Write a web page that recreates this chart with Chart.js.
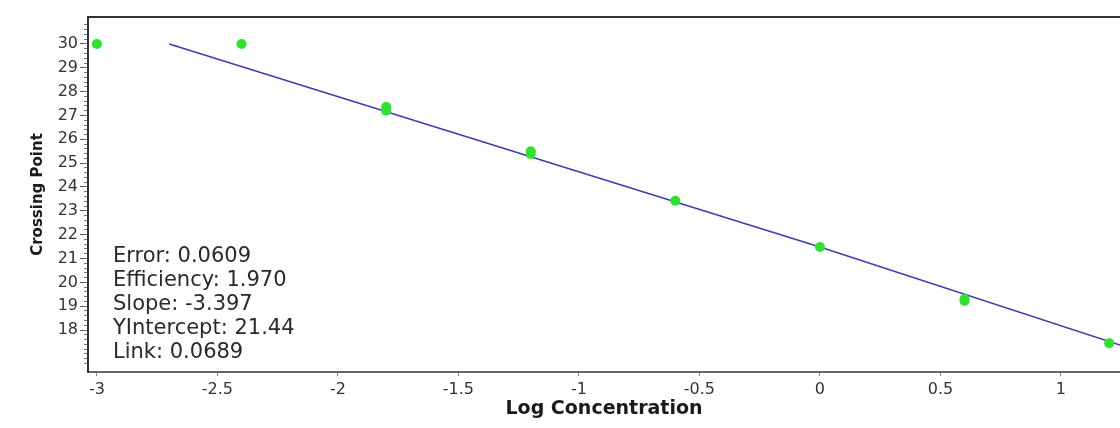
<!DOCTYPE html>
<html>
<head>
<meta charset="utf-8">
<script src="https://cdn.jsdelivr.net/npm/chart.js@4.4.1/dist/chart.umd.min.js"></script>
<style>
    html, body { margin: 0; padding: 0; background: #fff; overflow: hidden; }
    #wrap { width: 1120px; height: 428px; }
</style>
</head>
<body>
<div id="wrap"><canvas id="stdCurve"></canvas></div>
<script>
// standard curve samples: log concentration vs crossing point
const logConc = [-3.0, -2.4, -1.8, -1.8, -1.2, -1.2, -0.6, 0.0, 0.6, 0.6, 1.2];
const crossingPts = [30.0, 30.0, 27.35, 27.2, 25.5, 25.38, 23.42, 21.48, 19.3, 19.22, 17.45];

// regression line
const fitX = [-2.7, 0.0, 1.245];
const fitY = [30.0, 21.48, 17.37];

const xTicks = [-3, -2.5, -2, -1.5, -1, -0.5, 0, 0.5, 1];
const yTicks = [18, 19, 20, 21, 22, 23, 24, 25, 26, 27, 28, 29, 30];

const statsLines = [
    'Error: 0.0609',
    'Efficiency: 1.970',
    'Slope: -3.397',
    'YIntercept: 21.44',
    'Link: 0.0689'
];

const family = '"DejaVu Sans", Verdana, sans-serif';
const yMin = 16.24, yMax = 31.13;

const statsText = {
    id: 'statsText',
    afterDatasetsDraw(chart) {
        const { ctx, chartArea } = chart;
        ctx.save();
        ctx.font = '21px ' + family;
        ctx.fillStyle = '#2a2a2a';
        ctx.textBaseline = 'middle';
        statsLines.forEach((line, i) => {
            ctx.fillText(line, chartArea.left + 25, chartArea.bottom - 115 + i * 24);
        });
        ctx.restore();
    }
};

function generateChart() {
    const samples = logConc.map((x, i) => ({ x: x, y: crossingPts[i] }));
    const fitLine = fitX.map((x, i) => ({ x: x, y: fitY[i] }));

    const ctx = document.getElementById('stdCurve');

    new Chart(ctx, {
        type: 'scatter',
        data: {
            datasets: [{
                label: 'Samples',
                data: samples,
                xAxisID: 'x',
                yAxisID: 'y',
                pointRadius: 5,
                pointBackgroundColor: '#2ee22e',
                pointBorderWidth: 0
            },
            {
                label: 'Fit',
                data: fitLine,
                xAxisID: 'x',
                yAxisID: 'y',
                showLine: true,
                pointRadius: 0,
                borderColor: '#3d3db4',
                borderWidth: 1.6
            }]
        },
        options: {
            responsive: true,
            maintainAspectRatio: false,
            animation: false,
            layout: { autoPadding: false, padding: { top: 17, left: 0, right: 0, bottom: 0 } },
            scales: {
                x: {
                    type: 'linear',
                    position: 'bottom',
                    min: -3.037,
                    max: 1.245,
                    afterBuildTicks: s => { s.ticks = xTicks.map(v => ({ value: v })); },
                    afterFit: s => { s.height = 56; },
                    grid: { drawOnChartArea: false, drawTicks: true, tickLength: 4, tickColor: '#888' },
                    border: { display: true, color: '#666', width: 2 },
                    ticks: {
                        color: '#333',
                        font: { family: family, size: 16 },
                        padding: 4,
                        maxRotation: 0,
                        autoSkip: false,
                        callback: v => String(v)
                    },
                    title: {
                        display: true,
                        text: 'Log Concentration',
                        color: '#1a1a1a',
                        font: { family: family, size: 19, weight: 'bold' },
                        padding: { top: 0, bottom: 8 }
                    }
                },
                xTop: {
                    type: 'linear',
                    position: 'top',
                    afterFit: s => { s.height = 0; },
                    grid: { display: false },
                    ticks: { display: false },
                    border: { display: true, color: '#333', width: 2 }
                },
                y: {
                    type: 'linear',
                    position: 'left',
                    weight: 1,
                    min: yMin,
                    max: yMax,
                    afterBuildTicks: s => { s.ticks = yTicks.map(v => ({ value: v })); },
                    afterFit: s => { s.width = 88; },
                    grid: { drawOnChartArea: false, drawTicks: true, tickLength: 8, tickColor: '#555' },
                    border: { display: true, color: '#333', width: 2 },
                    ticks: {
                        color: '#333',
                        font: { family: family, size: 16 },
                        padding: 2,
                        callback: v => String(v)
                    },
                    title: {
                        display: true,
                        text: 'Crossing Point',
                        color: '#1a1a1a',
                        font: { family: family, size: 15, weight: 'bold' },
                        padding: { top: 29, bottom: 0 }
                    }
                },
                yMinor: {
                    type: 'linear',
                    position: 'left',
                    weight: 0,
                    min: yMin,
                    max: yMax,
                    afterBuildTicks: s => {
                        s.ticks = s.ticks.filter(t => Math.abs(t.value * 5 - Math.round(t.value * 5)) < 1e-6);
                    },
                    afterFit: s => { s.width = 0; },
                    grid: { drawOnChartArea: false, drawTicks: true, tickLength: 4, tickColor: '#777' },
                    border: { display: false },
                    ticks: { display: false, stepSize: 0.2 }
                }
            },
            plugins: {
                legend: { display: false },
                tooltip: { enabled: false }
            }
        },
        plugins: [statsText]
    });
}

generateChart();
</script>
</body>
</html>
